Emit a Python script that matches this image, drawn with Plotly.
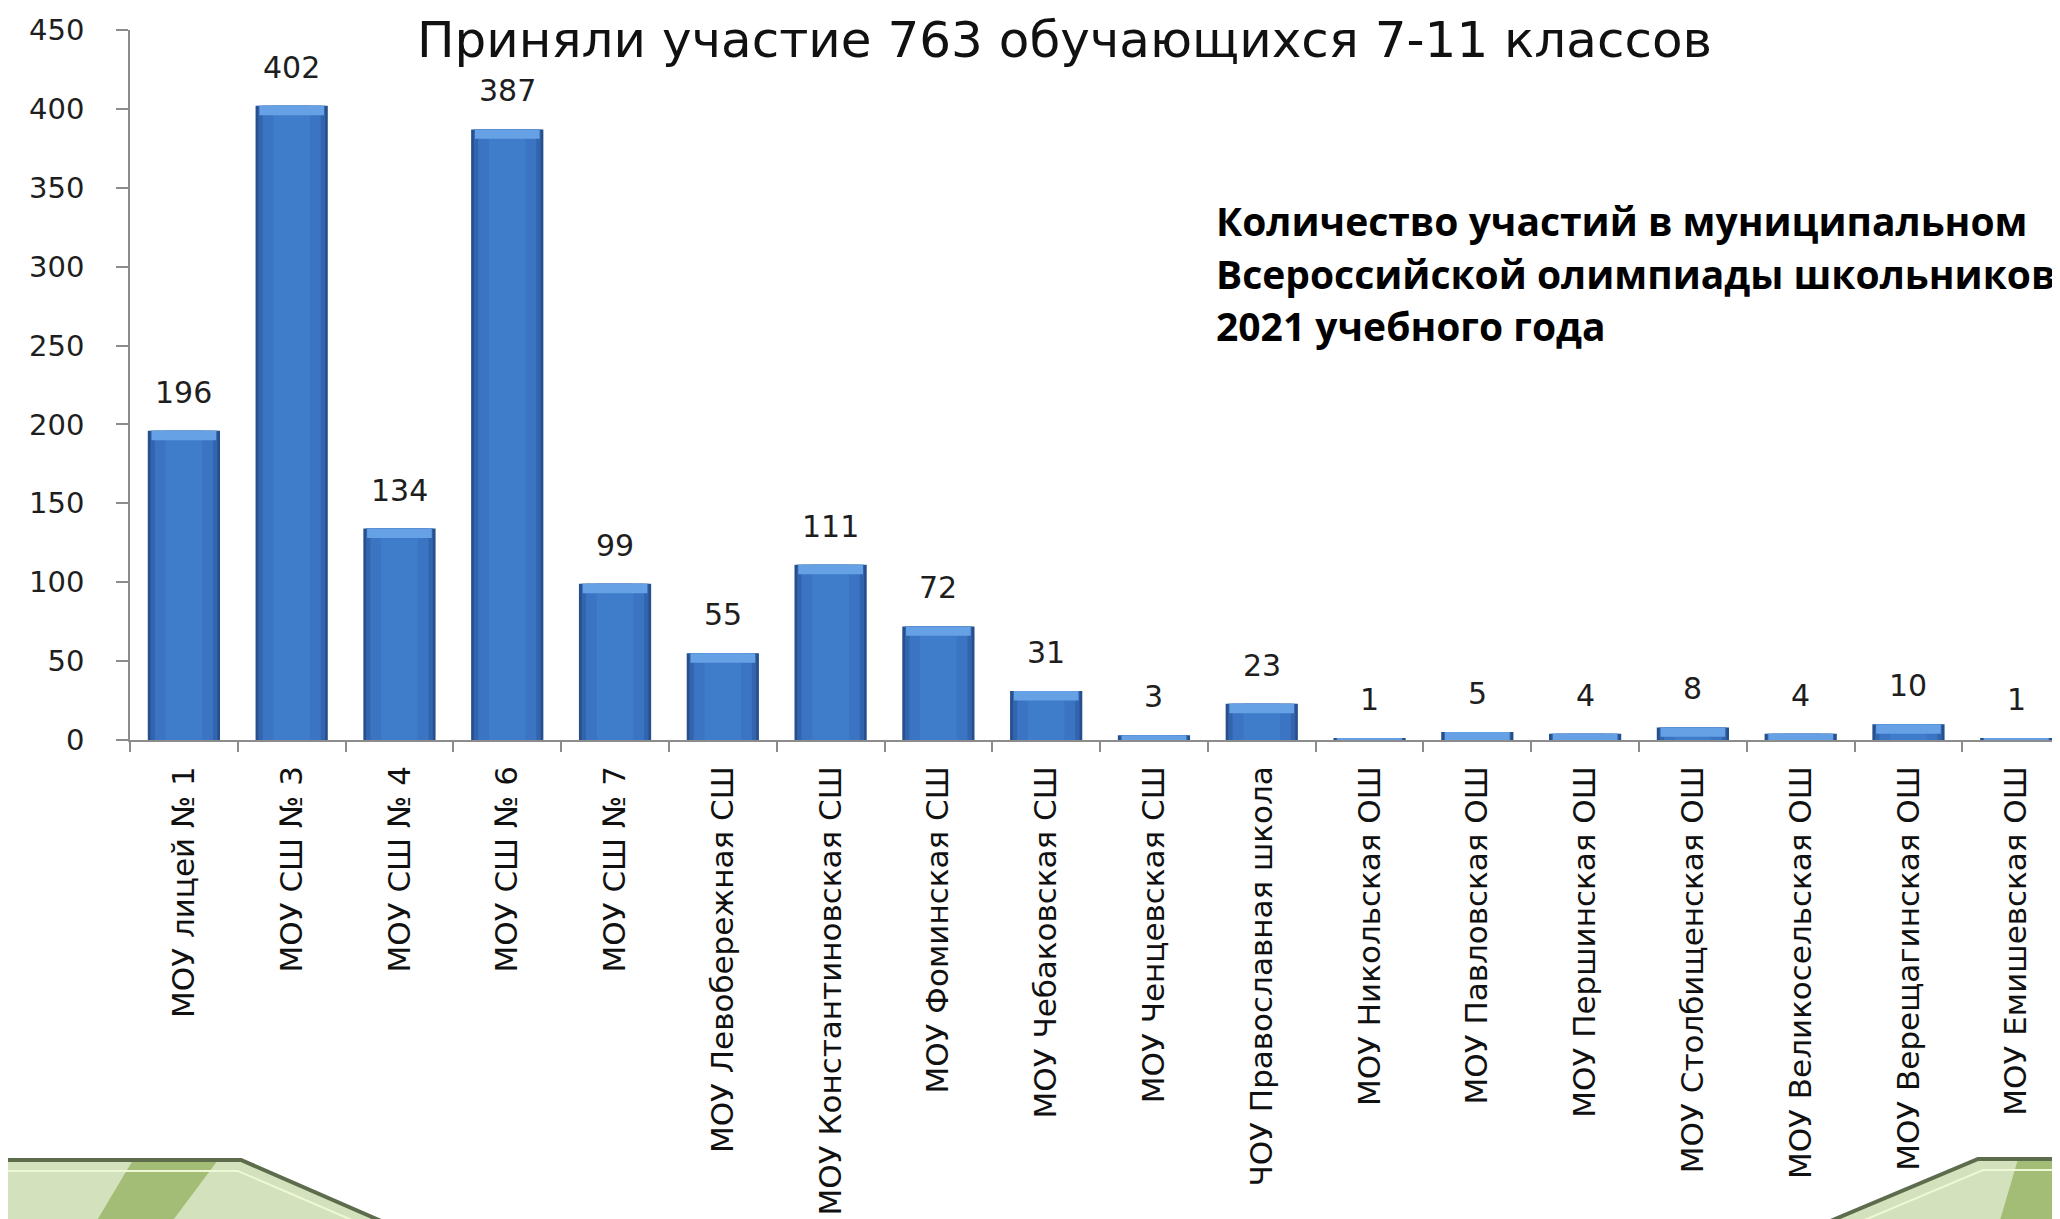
import plotly.graph_objects as go

categories = [
    "МОУ лицей № 1", "МОУ СШ № 3", "МОУ СШ № 4", "МОУ СШ № 6", "МОУ СШ № 7",
    "МОУ Левобережная СШ", "МОУ Константиновская СШ", "МОУ Фоминская СШ",
    "МОУ Чебаковская СШ", "МОУ Ченцевская СШ", "ЧОУ Православная школа",
    "МОУ Никольская ОШ", "МОУ Павловская ОШ", "МОУ Першинская ОШ",
    "МОУ Столбищенская ОШ", "МОУ Великосельская ОШ", "МОУ Верещагинская ОШ",
    "МОУ Емишевская ОШ",
]
values = [196, 402, 134, 387, 99, 55, 111, 72, 31, 3, 23, 1, 5, 4, 8, 4, 10, 1]
y_ticks = [0, 50, 100, 150, 200, 250, 300, 350, 400, 450]
title_text = "Приняли участие 763 обучающихся 7-11 классов"
note_lines = [
    "Количество участий в муниципальном",
    "Всероссийской олимпиады школьников",
    "2021 учебного года",
]

W, H = 2060, 1219
L, R, T, B = 122, 0, 22, 487
PW, PH = W - L - R, H - T - B


def px(x):
    return (x - L) / PW


def py(y):
    return (H - B - y) / PH


fig = go.Figure()

# layered bars to imitate the shaded Excel-style columns
for w, c in [(0.67, "#274f8c"), (0.62, "#3265ad"), (0.54, "#3a74c2"), (0.34, "#3f7cca")]:
    fig.add_trace(go.Bar(
        x=categories, y=values, width=w,
        marker=dict(color=c, line=dict(width=0)),
        hoverinfo="skip", showlegend=False,
    ))

cap = [min(v, 6) for v in values]
cap_base = [v - c for v, c in zip(values, cap)]
fig.add_trace(go.Bar(
    x=categories, y=cap, base=cap_base, width=0.6,
    marker=dict(color="#66a1e6", line=dict(width=0)),
    hoverinfo="skip", showlegend=False,
))

annotations = []
for c, v in zip(categories, values):
    annotations.append(dict(
        x=c, y=v, xref="x", yref="y", text=str(v), showarrow=False,
        yanchor="bottom", xanchor="center", yshift=19,
        font=dict(family="DejaVu Sans", size=30, color="#1e1e1e"),
    ))

annotations.append(dict(
    x=px(1056), y=py(32), xref="paper", yref="paper", text=title_text,
    showarrow=False, xanchor="center", yanchor="middle",
    font=dict(family="DejaVu Sans", size=50, color="#111111"),
))

for i, line in enumerate(note_lines):
    annotations.append(dict(
        x=px(1206), y=py(213 + 52 * i), xref="paper", yref="paper",
        text="<b>" + line + "</b>", showarrow=False,
        xanchor="left", yanchor="middle",
        font=dict(family="Open Sans", size=39, color="#000000"),
    ))

# decorative slide ornaments (bottom corners)
def path(points, close=True):
    p = "M " + " L ".join(f"{px(x)},{py(y)}" for x, y in points)
    return p + " Z" if close else p


def deco(points, fill=None, line=None, width=0, close=True):
    return dict(
        type="path", xref="paper", yref="paper", layer="above",
        path=path(points, close),
        fillcolor=fill if fill else "rgba(0,0,0,0)",
        line=dict(color=line if line else "rgba(0,0,0,0)", width=width),
    )


shapes = [
    deco([(0, 1152), (233, 1152), (387, 1219), (0, 1219)], fill="#d3e2bd"),
    deco([(85, 1219), (125, 1152), (210, 1152), (160, 1219)], fill="#a3bd76"),
    deco([(0, 1152), (233, 1152), (387, 1219)], line="#5d6c4c", width=4, close=False),
    deco([(0, 1163), (230, 1163), (360, 1219)], line="#eef7d6", width=2, close=False),
    deco([(2060, 1151), (1970, 1151), (1808, 1219), (2060, 1219)], fill="#d3e2bd"),
    deco([(2060, 1151), (2010, 1151), (1990, 1219), (2060, 1219)], fill="#a3bd76"),
    deco([(2060, 1151), (1970, 1151), (1808, 1219)], line="#5d6c4c", width=4, close=False),
    deco([(2060, 1162), (1975, 1162), (1840, 1219)], line="#eef7d6", width=2, close=False),
]

fig.update_layout(
    width=W, height=H,
    margin=dict(l=L, r=R, t=T, b=B, pad=0),
    paper_bgcolor="white", plot_bgcolor="white",
    barmode="overlay", bargap=0.33,
    showlegend=False,
    annotations=annotations,
    shapes=shapes,
    xaxis=dict(
        type="category", range=[-0.5, 17.48], autorange=False,
        showgrid=False, zeroline=False,
        showline=True, linecolor="#8c8c8c", linewidth=1.5,
        ticks="outside", tickson="boundaries", ticklen=10, tickcolor="#8c8c8c",
        tickwidth=1.5, tickangle=-90, ticklabelstandoff=12,
        tickfont=dict(family="DejaVu Sans", size=31, color="#111111"),
        automargin=False,
    ),
    yaxis=dict(
        range=[0, 450], autorange=False,
        tickvals=y_ticks, ticktext=[str(t) for t in y_ticks],
        showgrid=False, zeroline=False,
        showline=True, linecolor="#8c8c8c", linewidth=1.5,
        ticks="outside", ticklen=12, tickcolor="#8c8c8c", tickwidth=1.5,
        ticklabelstandoff=26,
        tickfont=dict(family="DejaVu Sans", size=29, color="#1e1e1e"),
        automargin=False,
    ),
)

fig.write_html("out.html")
